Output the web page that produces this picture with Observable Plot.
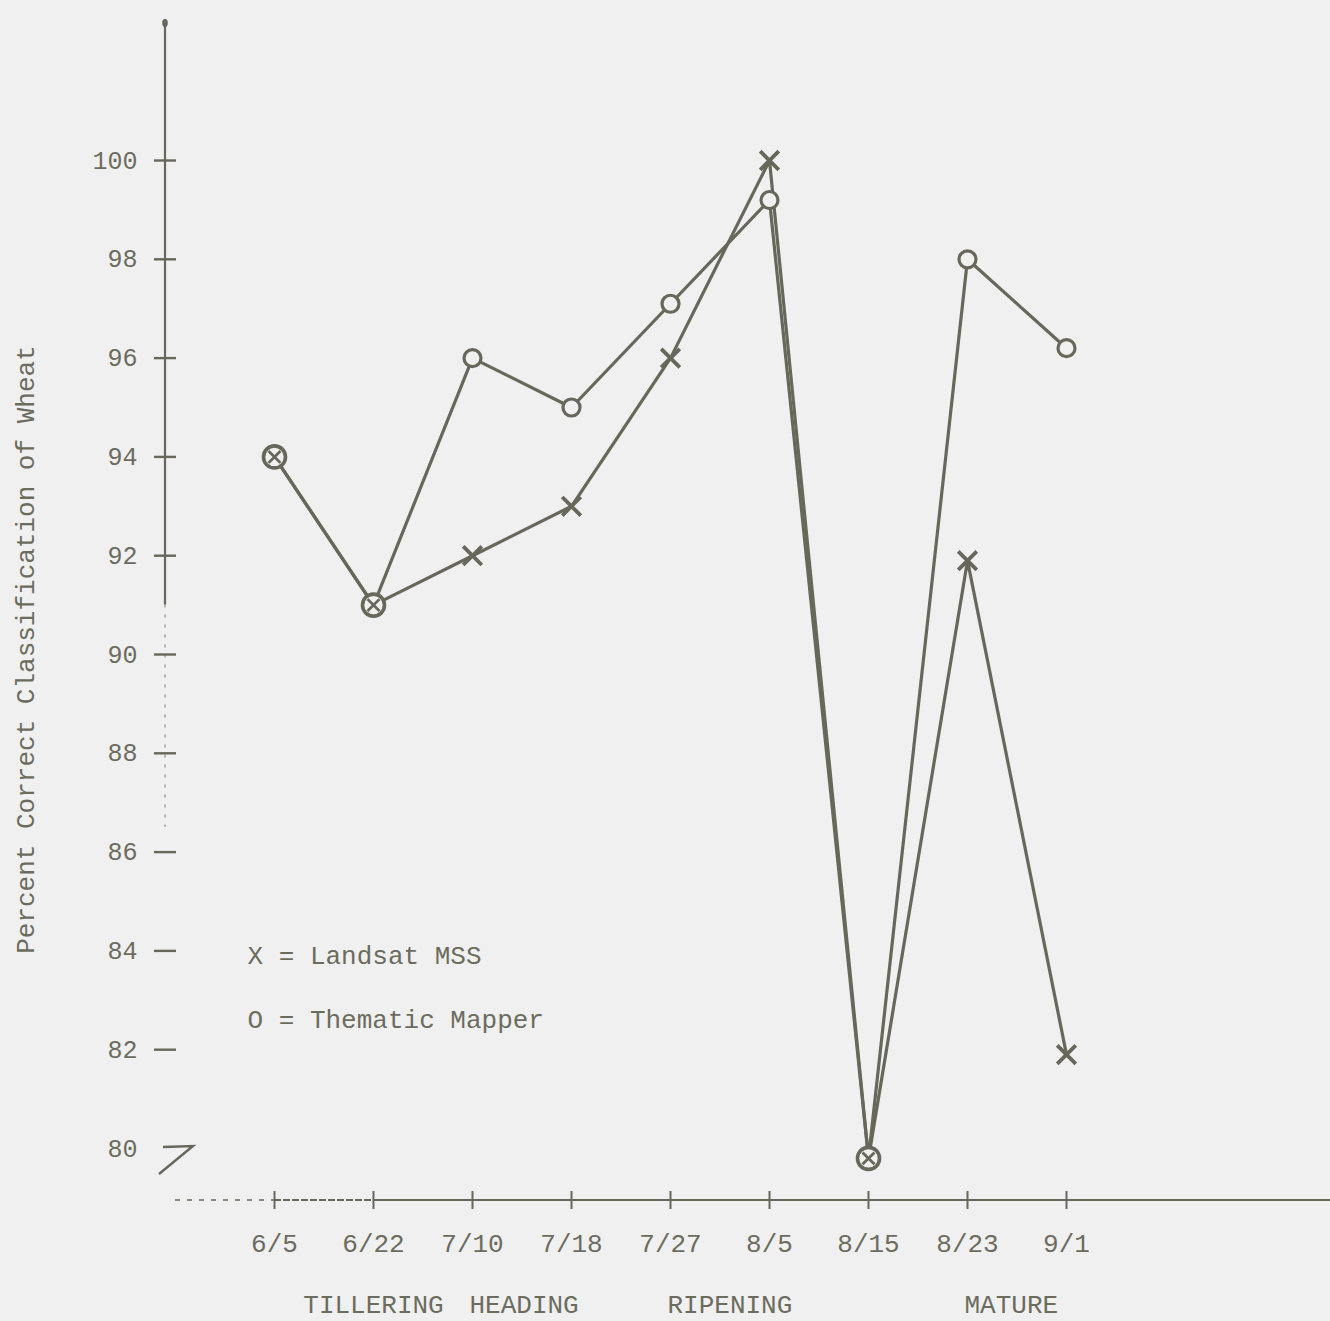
<!DOCTYPE html>
<html>
<head>
<meta charset="utf-8">
<script src="https://cdn.jsdelivr.net/npm/d3@7"></script>
<script src="https://cdn.jsdelivr.net/npm/@observablehq/plot@0.6"></script>
<style>
  html, body { margin: 0; padding: 0; background: #f0f0f0; }
  #chart { width: 1330px; height: 1321px; }
</style>
</head>
<body>
<div id="chart"></div>
<script>
// ---- data ----
const dates = ["6/5", "6/22", "7/10", "7/18", "7/27", "8/5", "8/15", "8/23", "9/1"];
const landsatMSS = [94, 91, 92, 93, 96, 100, 79.8, 91.9, 81.9];
const thematicMapper = [94, 91, 96, 95, 97.1, 99.2, 79.8, 98, 96.2];
const yTickValues = [80, 82, 84, 86, 88, 90, 92, 94, 96, 98, 100];
const stageLabels = ["TILLERING", "HEADING", "RIPENING", "MATURE"];
const stageDates = ["6/22", "7/10", "7/27", "8/23"];
const legendLabels = ["X = Landsat MSS", "O = Thematic Mapper"];
const legendRows = [83.9, 82.6];
const yTitle = "Percent Correct Classification of Wheat";

// ---- tables built from the arrays ----
const rows = [];
dates.forEach((d, i) => rows.push({date: d, value: landsatMSS[i], series: "Landsat MSS"}));
dates.forEach((d, i) => rows.push({date: d, value: thematicMapper[i], series: "Thematic Mapper"}));
const both = dates.map((d, i) => ({date: d, mss: landsatMSS[i], tm: thematicMapper[i]}));
const shared = both.filter(d => d.mss === d.tm);
const mssOnly = both.filter(d => d.mss !== d.tm);
const stages = stageLabels.map((s, i) => ({label: s, date: stageDates[i]}));
const legend = legendLabels.map((s, i) => ({label: s, y: legendRows[i]}));

const ink = "#67675a";
const textInk = "#6c6c5e";
const bg = "#f0f0f0";
const font = "'Liberation Mono', 'DejaVu Sans Mono', monospace";

// decorative axis lines drawn from the scales
function axisLines(index, scales, values, dim) {
  const g = d3.create("svg:g").attr("fill", "none").attr("stroke", ink);
  const x0 = dim.marginLeft;
  const yb = dim.height - dim.marginBottom;
  // vertical axis: solid upper part, faint dotted lower part
  g.append("line").attr("x1", x0).attr("x2", x0)
    .attr("y1", dim.marginTop + 2).attr("y2", scales.y(91))
    .attr("stroke-width", 2.2);
  g.append("line").attr("x1", x0).attr("x2", x0)
    .attr("y1", scales.y(91)).attr("y2", scales.y(86.5))
    .attr("stroke-width", 1.6).attr("stroke-dasharray", "3,7").attr("stroke-opacity", 0.55);
  g.append("ellipse").attr("cx", x0).attr("cy", dim.marginTop + 5).attr("rx", 2.8).attr("ry", 4)
    .attr("fill", ink).attr("stroke", "none");
  // axis break mark at 80
  const yb80 = scales.y(80);
  g.append("path")
    .attr("d", `M${x0 - 2},${yb80 - 1} L${x0 + 28},${yb80 - 2} L${x0 - 6},${yb80 + 26}`)
    .attr("stroke-width", 2.4).attr("stroke-linejoin", "miter");
  // horizontal axis
  const xa = scales.x(dates[0]);
  const xb = scales.x(dates[1]);
  g.append("line").attr("x1", x0 + 10).attr("x2", xa).attr("y1", yb).attr("y2", yb)
    .attr("stroke-width", 1.6).attr("stroke-dasharray", "5,7");
  g.append("line").attr("x1", xa).attr("x2", xb).attr("y1", yb).attr("y2", yb)
    .attr("stroke-width", 1.8).attr("stroke-dasharray", "7,2");
  g.append("line").attr("x1", xb).attr("x2", dim.width).attr("y1", yb).attr("y2", yb)
    .attr("stroke-width", 2.2);
  return g.node();
}

const chart = Plot.plot({
  width: 1330,
  height: 1321,
  marginLeft: 165,
  marginRight: 0,
  marginTop: 18,
  marginBottom: 121,
  style: {background: bg, color: textInk, fontFamily: font, fontSize: "26px"},
  x: {type: "point", domain: dates, range: [272, 1068], padding: 0},
  y: {domain: [80, 100], range: [1148, 160]},
  marks: [
    axisLines,
    // y tick marks (straddling the axis)
    Plot.axisY(yTickValues.filter(v => v > 80), {
      tickSize: 22, dx: 11, text: null, label: null, stroke: ink, strokeWidth: 2.4
    }),
    // y tick labels
    Plot.axisY(yTickValues, {
      tickSize: 0, tickPadding: 28, label: null, fontSize: 25, fill: textInk
    }),
    // x tick marks
    Plot.axisX(dates, {
      tickSize: 18, dy: -9, text: null, label: null, stroke: ink, strokeWidth: 2
    }),
    // x tick labels
    Plot.axisX(dates, {
      tickSize: 0, tickPadding: 33, label: null, fontSize: 26, fill: textInk
    }),
    // growth stages
    Plot.text(stages.filter((d, i) => i === 0), {
      x: "date", text: "label", frameAnchor: "bottom", dy: 104,
      textAnchor: "middle", lineAnchor: "middle", fill: textInk, fontSize: 26
    }),
    Plot.text(stages.filter((d, i) => i > 0), {
      x: "date", text: "label", frameAnchor: "bottom", dy: 104, dx: -3,
      textAnchor: "start", lineAnchor: "middle", fill: textInk, fontSize: 26
    }),
    // y title
    Plot.text([yTitle], {
      text: d => d, frameAnchor: "left", y: [90.1], dx: -140, rotate: -90,
      textAnchor: "middle", lineAnchor: "middle", fill: textInk, fontSize: 26
    }),
    // legend
    Plot.text(legend, {
      text: "label", y: "y", frameAnchor: "left", dx: 82,
      textAnchor: "start", lineAnchor: "middle", fill: textInk, fontSize: 26
    }),
    // series lines
    Plot.line(rows, {
      x: "date", y: "value", z: "series", stroke: ink, strokeWidth: 3.2,
      strokeLinejoin: "round", curve: "linear"
    }),
    // Thematic Mapper circles
    Plot.dot(mssOnly, {x: "date", y: "tm", r: 8.5, fill: bg, stroke: ink, strokeWidth: 3.2}),
    Plot.dot(shared, {x: "date", y: "tm", r: 11, fill: bg, stroke: ink, strokeWidth: 3.6}),
    // Landsat MSS crosses
    Plot.dot(mssOnly, {x: "date", y: "mss", symbol: "times", r: 8.5, stroke: ink, strokeWidth: 3.8}),
    Plot.dot(shared, {x: "date", y: "mss", symbol: "times", r: 5.5, stroke: ink, strokeWidth: 2.8})
  ]
});
document.getElementById("chart").appendChild(chart);
</script>
</body>
</html>
